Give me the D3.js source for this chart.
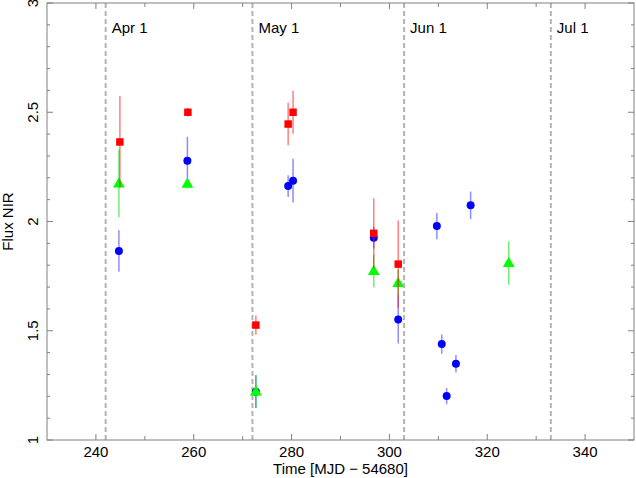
<!DOCTYPE html>
<html>
<head>
<meta charset="utf-8">
<script src="https://cdn.jsdelivr.net/npm/d3@7"></script>
<style>
  body { margin: 0; background: #fff; }
  svg text { font-family: "Liberation Sans", Arial, sans-serif; fill: #000; }
</style>
</head>
<body>
<div id="chart"></div>
<script>
// x in days (MJD - 54680), y flux, e = error half-length
const blueX = [244.7, 258.7, 272.7, 279.3, 280.3, 296.8, 301.8, 309.7, 310.7, 311.7, 313.6, 316.6];
const blueY = [1.865, 2.278, 1.221, 2.162, 2.187, 1.926, 1.552, 1.979, 1.439, 1.201, 1.349, 2.074];
const blueE = [0.095, 0.11, 0.075, 0.05, 0.1, 0.05, 0.11, 0.06, 0.044, 0.037, 0.04, 0.063];

const greenX = [244.7, 258.7, 272.7, 296.8, 301.8, 324.4];
const greenY = [2.174, 2.172, 1.222, 1.773, 1.718, 1.81];
const greenE = [0.156, 0.02, 0.075, 0.075, 0.06, 0.1];

const redX = [244.9, 258.8, 272.7, 279.3, 280.3, 296.8, 301.8];
const redY = [2.364, 2.5, 1.526, 2.446, 2.5, 1.946, 1.805];
const redE = [0.21, 0.02, 0.044, 0.097, 0.098, 0.16, 0.2];

const monthX = [242, 272, 303, 333];
const monthLabels = ["Apr 1", "May 1", "Jun 1", "Jul 1"];

const xTicks = [240, 260, 280, 300, 320, 340];
const yTicks = [1, 1.5, 2, 2.5, 3];

const W = 636, H = 478;
const margin = {top: 3, right: 2, bottom: 38, left: 47};
const width = W - margin.left - margin.right;
const height = H - margin.top - margin.bottom;

const svg = d3.select("#chart").append("svg")
    .attr("width", W)
    .attr("height", H);

const g = svg.append("g")
    .attr("transform", "translate(" + margin.left + "," + margin.top + ")");

let x = d3.scaleLinear().domain([230, 350]).range([0, width]);
let y = d3.scaleLinear().domain([1, 3]).range([height, 0]);

const axisColor = "#808080";

// month dashed lines
monthX.forEach(function (m, i) {
    g.append("line")
        .attr("x1", x(m)).attr("x2", x(m))
        .attr("y1", 0).attr("y2", height)
        .attr("stroke", "#b4b4b4")
        .attr("stroke-width", 2)
        .attr("stroke-dasharray", "5,3");
    g.append("text")
        .attr("x", x(m) + 6)
        .attr("y", 30)
        .style("font-size", "15px")
        .text(monthLabels[i]);
});

// ticks inward on all four sides
function tickSet(vals, len, axis) {
    vals.forEach(function (v) {
        if (axis === "x") {
            g.append("line").attr("x1", x(v)).attr("x2", x(v))
                .attr("y1", height).attr("y2", height - len)
                .attr("stroke", axisColor);
            g.append("line").attr("x1", x(v)).attr("x2", x(v))
                .attr("y1", 0).attr("y2", len)
                .attr("stroke", axisColor);
        } else {
            g.append("line").attr("y1", y(v)).attr("y2", y(v))
                .attr("x1", 0).attr("x2", len)
                .attr("stroke", axisColor);
            g.append("line").attr("y1", y(v)).attr("y2", y(v))
                .attr("x1", width).attr("x2", width - len)
                .attr("stroke", axisColor);
        }
    });
}
tickSet(d3.range(240, 350, 20), 6, "x");
tickSet(d3.range(250, 350, 20), 4, "x");
tickSet(d3.range(1, 3.001, 0.5), 6, "y");
tickSet(d3.range(1.1, 3, 0.1).filter(function (v) {
    return Math.abs(v * 2 - Math.round(v * 2)) > 0.01;
}), 3, "y");

// frame
g.append("rect")
    .attr("x", 0).attr("y", 0)
    .attr("width", width).attr("height", height)
    .attr("fill", "none")
    .attr("stroke", axisColor)
    .attr("stroke-width", 1);

// tick labels
g.selectAll(".xlab")
    .data(xTicks)
    .enter().append("text")
    .attr("x", function (d) { return x(d); })
    .attr("y", height + 17)
    .style("text-anchor", "middle")
    .style("font-size", "15px")
    .text(function (d) { return d; });

g.selectAll(".ylab")
    .data(yTicks)
    .enter().append("text")
    .attr("transform", function (d) {
        return "translate(" + (-9) + "," + y(d) + ") rotate(-90)";
    })
    .style("text-anchor", "middle")
    .style("font-size", "15px")
    .text(function (d) { return d; });

// axis titles
g.append("text")
    .attr("x", width / 2)
    .attr("y", height + 34)
    .style("text-anchor", "middle")
    .style("font-size", "15px")
    .text("Time [MJD \u2212 54680]");

g.append("text")
    .attr("transform", "translate(" + (-34) + "," + (height / 2) + ") rotate(-90)")
    .style("text-anchor", "middle")
    .style("font-size", "15px")
    .text("Flux NIR");

// series
function drawSeries(xs, ys, es, color, errColor, shape) {
    const data = xs.map(function (d, i) { return {x: d, y: ys[i], e: es[i]}; });
    g.selectAll(null)
        .data(data)
        .enter().append("line")
        .attr("x1", function (d) { return x(d.x); })
        .attr("x2", function (d) { return x(d.x); })
        .attr("y1", function (d) { return y(d.y - d.e); })
        .attr("y2", function (d) { return y(d.y + d.e); })
        .attr("stroke", errColor)
        .attr("stroke-width", 1.5);
    const sym = d3.symbol().type(shape.type).size(shape.size);
    g.selectAll(null)
        .data(data)
        .enter().append("path")
        .attr("d", sym)
        .attr("transform", function (d) {
            return "translate(" + x(d.x) + "," + (y(d.y) + (shape.dy || 0)) + ")";
        })
        .style("fill", color);
}

drawSeries(blueX, blueY, blueE, "#0000ff", "rgba(0,0,255,0.45)", {type: d3.symbolCircle, size: 50});
drawSeries(greenX, greenY, greenE, "#00ff00", "rgba(0,220,0,0.55)", {type: d3.symbolTriangle, size: 60, dy: 0.5});
drawSeries(redX, redY, redE, "#ff0000", "rgba(255,0,0,0.5)", {type: d3.symbolSquare, size: 56});
</script>
</body>
</html>
